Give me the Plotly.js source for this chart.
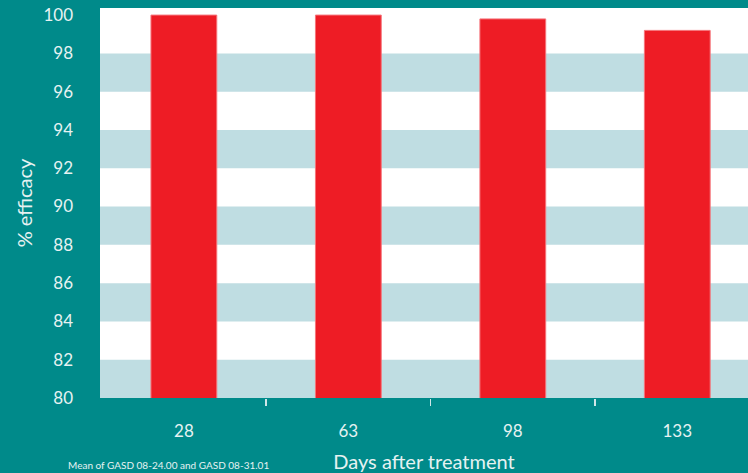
<!DOCTYPE html>
<html>
<head>
<meta charset="utf-8">
<script src="https://cdn.plot.ly/plotly-3.0.1.min.js"></script>
<style>html,body{margin:0;padding:0;background:#008A8A;}#chart{width:748px;height:473px;}</style>
</head>
<body>
<div id="chart"></div>
<script>
const days = ['28', '63', '98', '133'];
const efficacy = [100, 100, 99.8, 99.2];
const yTicks = [80, 82, 84, 86, 88, 90, 92, 94, 96, 98, 100];
const bandStarts = [80, 84, 88, 92, 96];
const boundaryTicks = [0.5, 1.5, 2.5];
const footnote = 'Mean of GASD 08-24.00 and GASD 08-31.01';

const teal = '#008A8A';
const textCol = '#E6F2F2';
const font = 'Lato, "Open Sans", sans-serif';

const shapes = bandStarts.map(b => ({
  type: 'rect', xref: 'paper', yref: 'y', x0: 0, x1: 1, y0: b, y1: b + 2,
  fillcolor: '#BFDDE2', line: {width: 0}, layer: 'below'
}));

const trace = {
  type: 'bar', x: days, y: efficacy, width: 0.4,
  marker: {color: '#EE1C25', line: {color: '#F5747A', width: 1}},
  hoverinfo: 'x+y'
};

// empty trace so the overlay axis (category-boundary ticks) is drawn
const tickHolder = {type: 'scatter', mode: 'markers', x: [], y: [], xaxis: 'x2', yaxis: 'y', hoverinfo: 'skip'};

const layout = {
  width: 748, height: 473,
  margin: {l: 100, r: 0, t: 8, b: 75},
  paper_bgcolor: teal, plot_bgcolor: '#FFFFFF',
  showlegend: false,
  font: {family: font, color: textCol, size: 17},
  xaxis: {
    type: 'category', categoryorder: 'array', categoryarray: days,
    range: [-0.51, 3.43], ticks: '', showgrid: false, zeroline: false, showline: false,
    tickfont: {size: 17, color: textCol}, ticklabelstandoff: 21,
    title: {text: 'Days after treatment', font: {size: 20, color: textCol}, standoff: 14}
  },
  xaxis2: {
    type: 'linear', overlaying: 'x', anchor: 'y', side: 'bottom',
    range: [-0.51, 3.43], tickvals: boundaryTicks, showticklabels: false,
    ticks: 'outside', ticklen: 7, tickwidth: 1.5, tickcolor: '#CFE6E8',
    showgrid: false, zeroline: false, showline: false
  },
  yaxis: {
    range: [80, 100.37], tickvals: yTicks, ticks: '', showgrid: false, zeroline: false, showline: false,
    tickfont: {size: 17, color: textCol}, ticklabelstandoff: 26,
    title: {text: '% efficacy', font: {size: 20, color: textCol}, standoff: 5}
  },
  shapes: shapes,
  annotations: [{
    text: footnote, xref: 'paper', yref: 'paper',
    x: -0.0525, y: -0.172, xanchor: 'left', yanchor: 'middle', showarrow: false,
    font: {size: 10, color: textCol, family: font}
  }]
};

Plotly.newPlot('chart', [trace, tickHolder], layout, {displayModeBar: false, staticPlot: true});
</script>
</body>
</html>
